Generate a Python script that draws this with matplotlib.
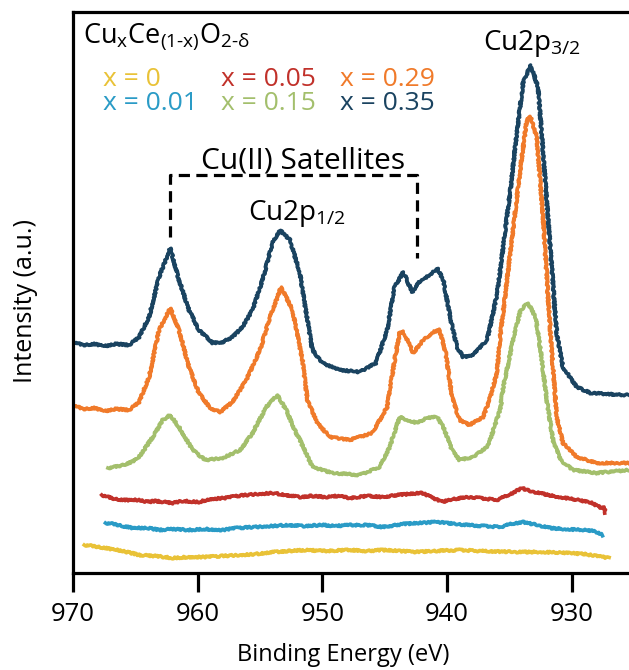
import matplotlib
matplotlib.use("Agg")
import matplotlib.pyplot as plt

plt.rcParams['font.family'] = ['Open Sans', 'DejaVu Sans']
plt.rcParams['mathtext.fontset'] = 'custom'
plt.rcParams['mathtext.rm'] = 'Open Sans'
plt.rcParams['mathtext.it'] = 'Open Sans:italic'
plt.rcParams['mathtext.bf'] = 'Open Sans:bold'

# ---------------- data (binding energy eV, intensity a.u.) ----------------
e_035 = [970.0, 969.2, 968.3, 967.4, 966.6, 965.5, 964.7, 963.9, 963.1, 962.2, 961.5, 960.7,
         959.9, 958.8, 958.0, 957.2, 956.4, 955.6, 954.8, 954.0, 953.4, 952.6, 951.8, 951.6,
         951.2, 950.8, 950.0, 948.6, 947.0, 945.7, 944.8, 944.2, 943.5, 942.8, 942.1, 941.3,
         940.8, 940.3, 939.7, 939.2, 938.7, 937.9, 936.8, 936.6, 936.0, 935.7, 934.9, 934.4,
         933.9, 933.3, 932.7, 932.3, 931.7, 931.2, 930.7, 929.6, 928.5, 925.8, 925.4]
i_035 = [231, 228, 229, 227, 229, 228, 236, 256, 296, 325, 293, 263,
         243, 230, 231, 236, 246, 263, 293, 330, 343, 333, 300, 283,
         253, 223, 210, 203, 201, 210, 243, 286, 301, 281, 293, 298,
         305, 293, 253, 226, 216, 218, 233, 243, 278, 306, 385, 440,
         490, 508, 486, 423, 323, 240, 206, 186, 180, 178, 178]

e_029 = [970.0, 969.2, 968.3, 967.4, 966.6, 965.5, 964.7, 963.9, 963.1, 962.2, 961.5, 960.7,
         959.9, 959.0, 958.2, 957.2, 956.1, 955.0, 954.2, 953.3, 952.4, 951.6, 951.2, 950.4,
         949.4, 947.8, 946.0, 944.8, 944.2, 943.8, 943.5, 942.7, 941.9, 941.1, 940.6, 940.1,
         939.6, 939.0, 938.2, 937.1, 936.6, 936.0, 935.7, 934.9, 934.1, 933.6, 933.3, 932.8,
         932.3, 931.7, 931.2, 930.7, 929.6, 928.0, 925.4]
i_029 = [168, 164, 165, 162, 164, 163, 171, 196, 243, 265, 243, 206,
         180, 165, 161, 171, 193, 223, 256, 286, 263, 213, 173, 150,
         136, 133, 140, 166, 213, 240, 241, 220, 233, 241, 243, 220,
         176, 153, 148, 156, 173, 200, 240, 323, 406, 453, 456, 436,
         356, 240, 156, 130, 116, 110, 110]

e_015 = [967.2, 966.7, 966.0, 965.3, 964.7, 963.6, 962.8, 962.2, 961.5, 960.4, 959.4, 958.0,
         956.6, 955.6, 954.5, 953.6, 952.9, 952.1, 951.8, 950.8, 949.2, 947.0, 945.4, 944.6,
         943.8, 943.2, 942.4, 941.6, 940.8, 940.3, 939.6, 939.0, 937.9, 936.8, 936.6, 935.7,
         935.5, 934.7, 934.1, 933.5, 932.9, 932.5, 932.0, 931.5, 930.9, 929.9, 928.0, 925.4]
i_015 = [105, 106, 108, 111, 116, 136, 153, 158, 146, 123, 113, 115,
         123, 140, 166, 178, 163, 140, 133, 106, 100, 98, 106, 126,
         156, 153, 150, 155, 156, 146, 123, 113, 116, 126, 131, 165,
         185, 233, 263, 270, 256, 223, 173, 133, 113, 103, 100, 103]

e_005 = [967.7, 967.2, 966.6, 965.9, 964.7, 964.0, 963.4, 962.0, 961.2, 959.9, 959.0, 957.8,
         956.9, 956.1, 955.2, 954.0, 952.9, 951.8, 950.9, 949.7, 948.8, 947.8, 946.4, 945.2,
         944.0, 942.0, 940.4, 939.5, 938.1, 937.4, 936.0, 934.9, 934.0, 933.4, 932.6, 931.5,
         930.5, 929.5, 928.4, 927.6, 927.4, 927.3]
i_005 = [78, 76, 74, 73, 73, 71, 72, 70, 72, 71, 74, 75,
         77, 78, 79, 80, 78, 76, 77, 76, 77, 75, 77, 76,
         78, 80, 71, 74, 76, 75, 73, 79, 85, 82, 80, 77,
         75, 73, 70, 65, 66, 60]

e_001 = [967.4, 966.7, 966.0, 965.2, 964.0, 963.1, 962.0, 960.7, 959.5, 958.0, 956.9, 955.4,
         954.1, 952.7, 951.5, 950.0, 948.9, 947.8, 946.4, 945.2, 943.5, 940.8, 939.3, 938.4,
         937.1, 935.7, 934.9, 933.9, 932.8, 931.7, 930.7, 929.1, 928.3, 927.5]
i_001 = [50, 49, 47, 45, 45, 43, 44, 43, 44, 43, 45, 46,
         47, 48, 47, 48, 47, 48, 48, 46, 49, 51, 49, 48,
         47, 46, 49, 51, 48, 45, 44, 43, 42, 38]

e_000 = [969.1, 968.4, 967.4, 966.0, 964.7, 963.4, 962.0, 960.7, 959.4, 958.0, 956.6, 955.3,
         954.0, 952.7, 951.3, 950.0, 947.8, 946.4, 945.2, 943.8, 942.5, 941.0, 939.0, 937.3,
         934.4, 932.5, 930.4, 929.0, 928.5, 927.0]
i_000 = [28, 27, 25, 22, 18, 17, 15, 16, 16, 17, 18, 19,
         21, 22, 23, 22, 23, 22, 23, 22, 21, 22, 23, 22,
         21, 21, 20, 19, 18, 15]

labels = ["x = 0", "x = 0.01", "x = 0.05", "x = 0.15", "x = 0.29", "x = 0.35"]
colors = ["#E9C237", "#2A9BC6", "#C1312A", "#A3BF6C", "#F07A2A", "#1A4360"]
series_e = [e_000, e_001, e_005, e_015, e_029, e_035]
series_i = [i_000, i_001, i_005, i_015, i_029, i_035]
xticks = [970, 960, 950, 940, 930]

# ---------------- figure ----------------
fig = plt.figure(figsize=(6.29, 6.70), dpi=100)
ax = fig.add_axes([73 / 629, 97 / 670, 556 / 629, 561 / 670])

for e, i, c in zip(series_e, series_i, colors):
    ln, = ax.plot(e, i, color=c, lw=2.6, solid_joinstyle='round')
    ln.set_sketch_params(scale=0.9, length=3, randomness=3)

ax.set_xlim(970, 925.4)
ax.set_ylim(0, 561)
ax.set_xticks(xticks)
ax.set_yticks([])
ax.tick_params(axis='x', direction='out', length=14, width=2.3, labelsize=18.5, pad=7)
for s in ['top', 'left', 'bottom']:
    ax.spines[s].set_linewidth(2.3)
ax.spines['right'].set_visible(False)

ax.set_xlabel("Binding Energy (eV)", fontsize=17)
ax.xaxis.set_label_coords(0.486, -0.146)
ax.xaxis.label.set_va('center')
ax.set_ylabel("Intensity (a.u.)", fontsize=18)
ax.yaxis.set_label_coords(-0.086, 0.485)
ax.yaxis.label.set_va('center')

# formula and legend
ax.text(969.2, 530, r"$\mathregular{Cu_xCe_{(1\text{-}x)}O_{2\text{-}\delta}}$", fontsize=19.5,
        ha='left', va='baseline')
col_x = [967.6, 958.1, 948.6]
row_y = [487, 463]
order = [[0, 2, 4], [1, 3, 5]]
for r, row in enumerate(order):
    for cidx, k in enumerate(row):
        ax.text(col_x[cidx], row_y[r], labels[k], color=colors[k], fontsize=19,
                ha='left', va='baseline')

# annotations
ax.text(937.1, 523, r"$\mathregular{Cu2p_{3/2}}$", fontsize=20, ha='left', va='baseline')
ax.text(956.0, 353, r"$\mathregular{Cu2p_{1/2}}$", fontsize=20, ha='left', va='baseline')
ax.text(959.7, 405, "Cu(II) Satellites", fontsize=21.5, ha='left', va='baseline')
ax.plot([962.2, 962.2, 942.4, 942.4], [336, 398, 398, 315], color='black', lw=2.3,
        ls=(0, (3.5, 2)), solid_capstyle='butt', dash_capstyle='butt')

fig.savefig("out.png", dpi=100)
